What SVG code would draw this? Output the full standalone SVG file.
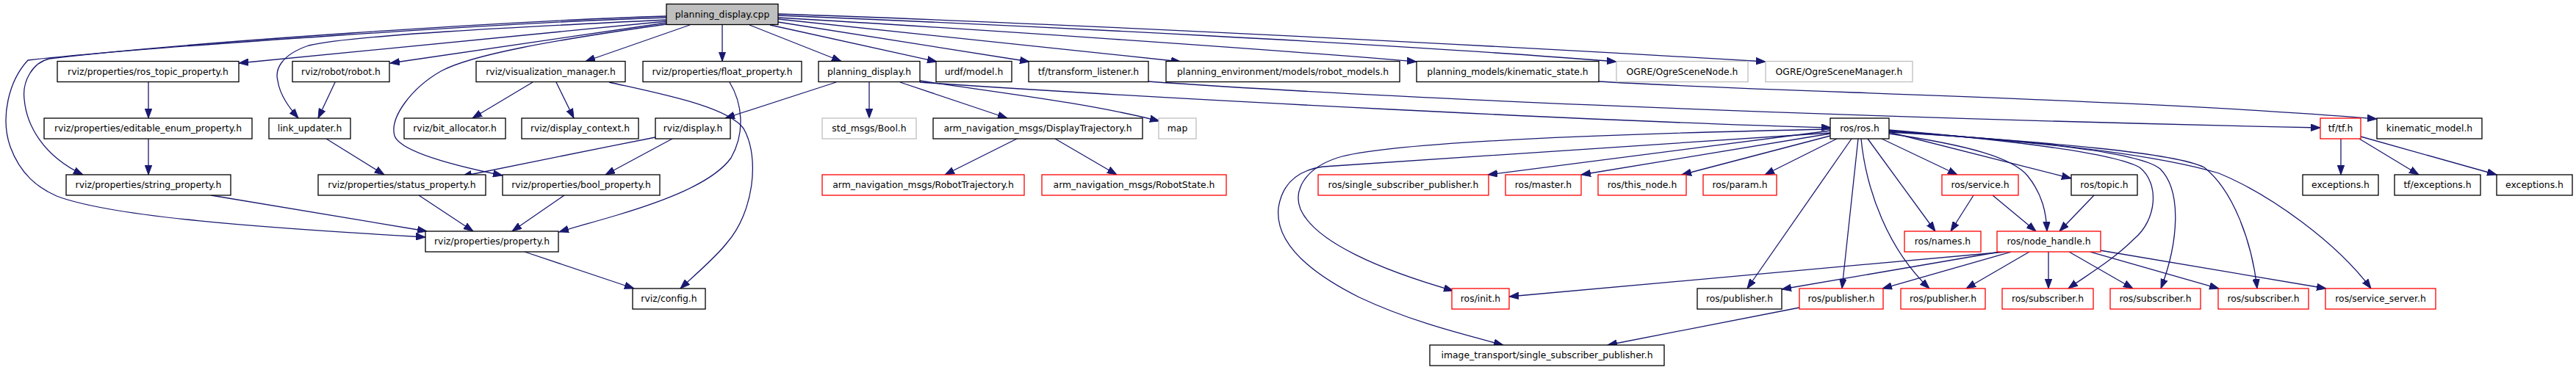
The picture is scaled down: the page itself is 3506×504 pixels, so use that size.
<svg xmlns="http://www.w3.org/2000/svg" width="3506" height="504" viewBox="0 0 3506 504">
<style>
rect{fill:#fff;stroke:#000;stroke-width:1.3}
.r rect{stroke:#ff0000}
.g rect{stroke:#bfbfbf}
.root rect{fill:#bfbfbf;stroke:#000}
text{font-family:"DejaVu Sans","Liberation Sans",sans-serif;font-size:12.4px;text-anchor:middle;fill:#000}
.e path{fill:none;stroke:#191970;stroke-width:1.3;marker-end:url(#a)}
</style>
<defs>
<marker id="a" markerUnits="userSpaceOnUse" markerWidth="14" markerHeight="10" viewBox="0 0 14 10" refX="13" refY="5" orient="auto"><path d="M0,0.3 L13,5 L0,9.7 z" fill="#191970" stroke="#191970" stroke-width="1"/></marker>
</defs>
<rect x="0" y="0" width="3506" height="504" style="fill:#fff;stroke:none"/>
<g class="e" id="edges">
<!-- root -->
<path d="M907,22 C700,28 250,58 67,80 C45,85 30,110 33,135 C36,170 58,212 113,238"/>
<path d="M907,24 C700,30 200,64 38,82 C12,110 0,160 14,200 C28,238 52,256 77,267 C150,295 350,310 579,323"/>
<path d="M907,27 C700,37 480,48 420,62 C382,75 374,95 378,110 C381,130 394,147 406,161"/>
<path d="M907,29 L325,86"/>
<path d="M907,31 L531,86"/>
<path d="M907,33 C750,55 640,75 600,97 C560,120 530,160 537,185 C545,207 620,226 684,239"/>
<path d="M939,34 L797,83.5"/>
<path d="M983,34 L983,83.5"/>
<path d="M1020,34 L1145,83.5"/>
<path d="M1048,34 L1275,84"/>
<path d="M1059,30 L1401,84"/>
<path d="M1059,26 L1607,84"/>
<path d="M1059,24 C1300,38 1700,65 1928,84"/>
<path d="M1059,21 C1400,35 1900,60 2200,84"/>
<path d="M1059,19 C1400,30 2000,60 2403,84"/>
<!-- planning_display.h -->
<path d="M1138,112 L987,161"/>
<path d="M1183,112 L1183,161"/>
<path d="M1225,112 L1371,161"/>
<path d="M1252,110 C1350,125 1480,140 1578,165"/>
<path d="M1252,112 C1600,136 2200,166 2492,174"/>
<!-- others row1 -->
<path d="M1563,111 C1800,128 2400,158 3158,174"/>
<path d="M2176,111 C2400,125 2900,134 3235,162"/>
<path d="M725,112 L643,161"/>
<path d="M757,112 L781,161"/>
<path d="M829,112 C900,128 990,145 1012,175 C1035,215 1025,290 990,330 C975,350 945,375 926,393"/>
<path d="M993,112 C1010,140 1015,180 995,215 C970,250 900,275 840,293 C810,302 780,310 761,316"/>
<path d="M456,112 L433,161"/>
<path d="M202,112 L202,161"/>
<path d="M202,189 L202,238"/>
<!-- row2 -->
<path d="M444,189 L523,238"/>
<path d="M892,187 C800,205 700,225 629,240"/>
<path d="M915,189 L824,238"/>
<path d="M1384,189 L1286,238"/>
<path d="M1436,189 L1520,238"/>
<!-- row3 to property -->
<path d="M287,266 L581,315"/>
<path d="M570,266 L644,315"/>
<path d="M768,266 L697,315"/>
<path d="M714,343 L863,393"/>
<!-- ros/ros.h -->
<path d="M2491,178 L2025,238"/>
<path d="M2491,182 L2152,238"/>
<path d="M2491,185 L2289,238"/>
<path d="M2500,189 L2402,238"/>
<path d="M2491,176 C2300,180 1900,190 1820,215 C1775,230 1760,260 1770,285 C1790,330 1880,368 1978,396"/>
<path d="M2491,181 L1801,227 C1765,232 1745,250 1740,283 C1735,330 1780,370 1850,405 C1920,438 1990,455 2046,470"/>
<path d="M2520,189 L2378,393"/>
<path d="M2529,189 L2507,393"/>
<path d="M2533,189 C2540,260 2570,340 2626,393"/>
<path d="M2542,189 L2634,315"/>
<path d="M2561,189 L2664,238"/>
<path d="M2571,180 L2819,243"/>
<path d="M2571,182 C2680,198 2740,215 2760,240 C2780,265 2785,290 2786,315"/>
<path d="M2571,177 C2700,188 2870,205 2912,228 C2940,250 2935,300 2905,325 C2875,355 2840,375 2815,393"/>
<path d="M2571,178 C2750,192 2910,205 2940,230 C2970,260 2965,330 2941,393"/>
<path d="M2571,179 C2800,195 2960,208 3000,228 C3040,260 3065,330 3072,393"/>
<path d="M2571,180 C2800,192 2950,215 3020,236 C3090,265 3180,330 3227,393"/>
<!-- service / topic -->
<path d="M2686,266 L2655,315"/>
<path d="M2712,266 L2771,315"/>
<path d="M2850,266 L2803,315"/>
<!-- node_handle -->
<path d="M2730,343 L2054,404"/>
<path d="M2722,343 L2425,394"/>
<path d="M2737,343 L2562,393"/>
<path d="M2762,343 L2676,393"/>
<path d="M2788,343 L2788,393"/>
<path d="M2816,343 L2903,393"/>
<path d="M2845,343 L3020,393"/>
<path d="M2858,341 L3166,393"/>
<path d="M2449,419 L2188,470"/>
<!-- tf/tf.h -->
<path d="M3186,189 L3186,238"/>
<path d="M3211,189 L3292,238"/>
<path d="M3213,186 L3398,238"/>
</g>
<g id="n_root" class="root"><rect x="907" y="5.5" width="152" height="28"/><text x="983" y="23.5">planning_display.cpp</text></g>
<g id="n_ros_topic_property"><rect x="78" y="83.5" width="247" height="28"/><text x="201.5" y="101.5">rviz/properties/ros_topic_property.h</text></g>
<g id="n_robot"><rect x="398" y="83.5" width="132" height="28"/><text x="464" y="101.5">rviz/robot/robot.h</text></g>
<g id="n_visualization_manager"><rect x="648" y="83.5" width="203" height="28"/><text x="749.5" y="101.5">rviz/visualization_manager.h</text></g>
<g id="n_float_property"><rect x="875" y="83.5" width="216" height="28"/><text x="983" y="101.5">rviz/properties/float_property.h</text></g>
<g id="n_planning_display_h"><rect x="1114" y="83.5" width="138" height="28"/><text x="1183" y="101.5">planning_display.h</text></g>
<g id="n_urdf_model"><rect x="1274" y="83.5" width="103" height="28"/><text x="1325.5" y="101.5">urdf/model.h</text></g>
<g id="n_transform_listener"><rect x="1400" y="83.5" width="163" height="28"/><text x="1481.5" y="101.5">tf/transform_listener.h</text></g>
<g id="n_robot_models"><rect x="1587" y="83.5" width="318" height="28"/><text x="1746" y="101.5">planning_environment/models/robot_models.h</text></g>
<g id="n_kinematic_state"><rect x="1928" y="83.5" width="248" height="28"/><text x="2052" y="101.5">planning_models/kinematic_state.h</text></g>
<g id="n_ogre_scene_node" class="g"><rect x="2200" y="83.5" width="179" height="28"/><text x="2289.5" y="101.5">OGRE/OgreSceneNode.h</text></g>
<g id="n_ogre_scene_manager" class="g"><rect x="2403" y="83.5" width="200" height="28"/><text x="2503" y="101.5">OGRE/OgreSceneManager.h</text></g>
<g id="n_editable_enum_property"><rect x="60" y="161" width="283" height="28"/><text x="201.5" y="179">rviz/properties/editable_enum_property.h</text></g>
<g id="n_link_updater"><rect x="366" y="161" width="111" height="28"/><text x="421.5" y="179">link_updater.h</text></g>
<g id="n_bit_allocator"><rect x="550" y="161" width="138" height="28"/><text x="619" y="179">rviz/bit_allocator.h</text></g>
<g id="n_display_context"><rect x="710" y="161" width="159" height="28"/><text x="789.5" y="179">rviz/display_context.h</text></g>
<g id="n_display"><rect x="892" y="161" width="102" height="28"/><text x="943" y="179">rviz/display.h</text></g>
<g id="n_bool_msg" class="g"><rect x="1119" y="161" width="128" height="28"/><text x="1183" y="179">std_msgs/Bool.h</text></g>
<g id="n_display_trajectory"><rect x="1270" y="161" width="285" height="28"/><text x="1412.5" y="179">arm_navigation_msgs/DisplayTrajectory.h</text></g>
<g id="n_map" class="g"><rect x="1577" y="161" width="51" height="28"/><text x="1602.5" y="179">map</text></g>
<g id="n_ros_ros"><rect x="2491" y="161" width="80" height="28"/><text x="2531" y="179">ros/ros.h</text></g>
<g id="n_tf_tf" class="r"><rect x="3158" y="161" width="55" height="28"/><text x="3185.5" y="179">tf/tf.h</text></g>
<g id="n_kinematic_model"><rect x="3235" y="161" width="143" height="28"/><text x="3306.5" y="179">kinematic_model.h</text></g>
<g id="n_string_property"><rect x="90" y="238" width="224" height="28"/><text x="202" y="256">rviz/properties/string_property.h</text></g>
<g id="n_status_property"><rect x="433" y="238" width="228" height="28"/><text x="547" y="256">rviz/properties/status_property.h</text></g>
<g id="n_bool_property"><rect x="684" y="238" width="214" height="28"/><text x="791" y="256">rviz/properties/bool_property.h</text></g>
<g id="n_robot_trajectory" class="r"><rect x="1119" y="238" width="275" height="28"/><text x="1256.5" y="256">arm_navigation_msgs/RobotTrajectory.h</text></g>
<g id="n_robot_state" class="r"><rect x="1418" y="238" width="251" height="28"/><text x="1543.5" y="256">arm_navigation_msgs/RobotState.h</text></g>
<g id="n_single_subscriber_publisher" class="r"><rect x="1794" y="238" width="232" height="28"/><text x="1910" y="256">ros/single_subscriber_publisher.h</text></g>
<g id="n_master" class="r"><rect x="2049" y="238" width="103" height="28"/><text x="2100.5" y="256">ros/master.h</text></g>
<g id="n_this_node" class="r"><rect x="2175" y="238" width="120" height="28"/><text x="2235" y="256">ros/this_node.h</text></g>
<g id="n_param" class="r"><rect x="2318" y="238" width="100" height="28"/><text x="2368" y="256">ros/param.h</text></g>
<g id="n_service" class="r"><rect x="2643" y="238" width="104" height="28"/><text x="2695" y="256">ros/service.h</text></g>
<g id="n_topic"><rect x="2819" y="238" width="90" height="28"/><text x="2864" y="256">ros/topic.h</text></g>
<g id="n_exceptions1"><rect x="3134" y="238" width="103" height="28"/><text x="3185.5" y="256">exceptions.h</text></g>
<g id="n_tf_exceptions"><rect x="3259" y="238" width="117" height="28"/><text x="3317.5" y="256">tf/exceptions.h</text></g>
<g id="n_exceptions2"><rect x="3398" y="238" width="103" height="28"/><text x="3449.5" y="256">exceptions.h</text></g>
<g id="n_property"><rect x="579" y="315" width="181" height="28"/><text x="669.5" y="333">rviz/properties/property.h</text></g>
<g id="n_names" class="r"><rect x="2592" y="315" width="104" height="28"/><text x="2644" y="333">ros/names.h</text></g>
<g id="n_node_handle" class="r"><rect x="2718" y="315" width="141" height="28"/><text x="2788.5" y="333">ros/node_handle.h</text></g>
<g id="n_config"><rect x="861" y="393" width="99" height="28"/><text x="910.5" y="411">rviz/config.h</text></g>
<g id="n_init" class="r"><rect x="1976" y="393" width="78" height="28"/><text x="2015" y="411">ros/init.h</text></g>
<g id="n_publisher0"><rect x="2310" y="393" width="115" height="28"/><text x="2367.5" y="411">ros/publisher.h</text></g>
<g id="n_publisher1" class="r"><rect x="2449" y="393" width="114" height="28"/><text x="2506" y="411">ros/publisher.h</text></g>
<g id="n_publisher2" class="r"><rect x="2587" y="393" width="115" height="28"/><text x="2644.5" y="411">ros/publisher.h</text></g>
<g id="n_subscriber1" class="r"><rect x="2725" y="393" width="124" height="28"/><text x="2787" y="411">ros/subscriber.h</text></g>
<g id="n_subscriber2" class="r"><rect x="2872" y="393" width="123" height="28"/><text x="2933.5" y="411">ros/subscriber.h</text></g>
<g id="n_subscriber3" class="r"><rect x="3019" y="393" width="123" height="28"/><text x="3080.5" y="411">ros/subscriber.h</text></g>
<g id="n_service_server" class="r"><rect x="3165" y="393" width="150" height="28"/><text x="3240" y="411">ros/service_server.h</text></g>
<g id="n_image_transport"><rect x="1946" y="470" width="319" height="28"/><text x="2105.5" y="488">image_transport/single_subscriber_publisher.h</text></g>
</svg>
